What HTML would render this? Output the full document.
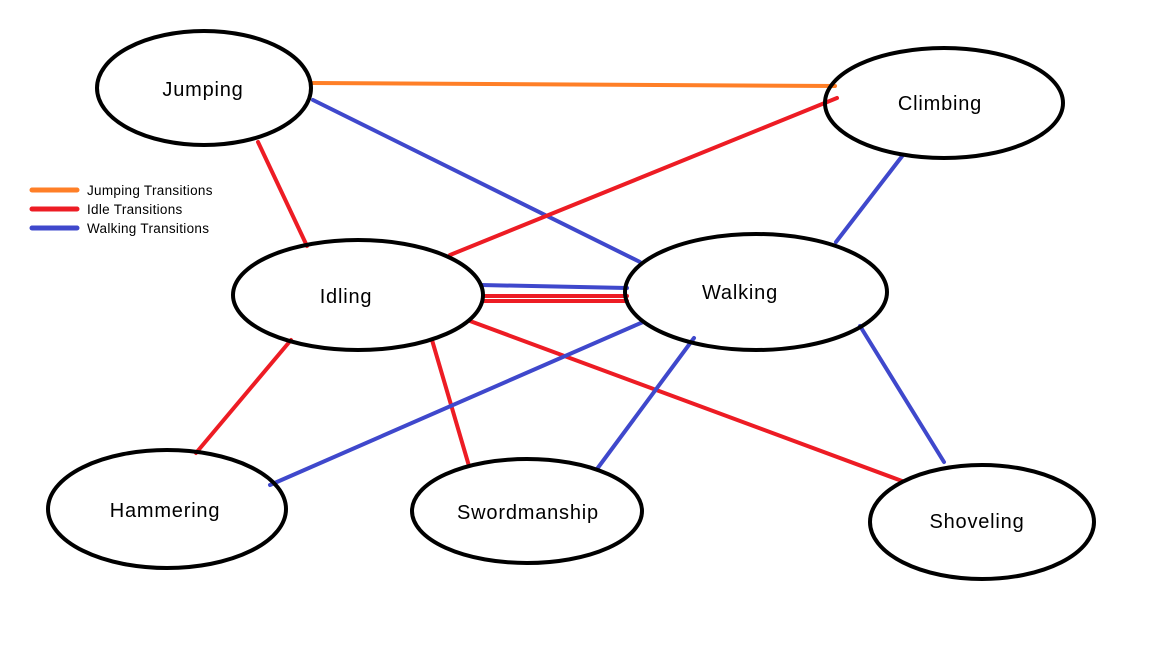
<!DOCTYPE html>
<html><head><meta charset="utf-8"><style>html,body{margin:0;padding:0;background:#fff}</style></head>
<body>
<svg width="1152" height="648" viewBox="0 0 1152 648" xmlns="http://www.w3.org/2000/svg" font-family="Liberation Sans, sans-serif">
<rect width="1152" height="648" fill="#fff"/>
<g stroke-width="4" stroke-linecap="round" fill="none">
<line x1="313" y1="83" x2="835" y2="86" stroke="#FF7F27"/>
<line x1="313" y1="100" x2="640" y2="262" stroke="#3F48CC"/>
<line x1="258" y1="142" x2="307" y2="246" stroke="#ED1C24"/>
<line x1="450" y1="255" x2="837" y2="98" stroke="#ED1C24"/>
<line x1="903" y1="155" x2="836" y2="242" stroke="#3F48CC"/>
<line x1="481" y1="285" x2="627" y2="288" stroke="#3F48CC"/>
<line x1="483" y1="296" x2="627" y2="296" stroke="#ED1C24"/>
<line x1="483" y1="301" x2="627" y2="301" stroke="#ED1C24"/>
<line x1="470" y1="321" x2="902" y2="481" stroke="#ED1C24"/>
<line x1="291" y1="340" x2="196" y2="453" stroke="#ED1C24"/>
<line x1="432" y1="340" x2="469" y2="466" stroke="#ED1C24"/>
<line x1="643" y1="322" x2="270" y2="485" stroke="#3F48CC"/>
<line x1="694" y1="338" x2="597" y2="469" stroke="#3F48CC"/>
<line x1="860" y1="326" x2="944" y2="462" stroke="#3F48CC"/>
</g>
<g stroke="#000" stroke-width="4" fill="none">
<ellipse cx="204" cy="88" rx="107" ry="57"/>
<ellipse cx="944" cy="103" rx="119" ry="55"/>
<ellipse cx="358" cy="295" rx="125" ry="55"/>
<ellipse cx="756" cy="292" rx="131" ry="58"/>
<ellipse cx="167" cy="509" rx="119" ry="59"/>
<ellipse cx="527" cy="511" rx="115" ry="52"/>
<ellipse cx="982" cy="522" rx="112" ry="57"/>
</g>
<g font-size="20" fill="#000" text-anchor="middle" letter-spacing="0.8">
<text x="203" y="96">Jumping</text>
<text x="940" y="110">Climbing</text>
<text x="346" y="303">Idling</text>
<text x="740" y="299">Walking</text>
<text x="165" y="517">Hammering</text>
<text x="528" y="519">Swordmanship</text>
<text x="977" y="528">Shoveling</text>
</g>
<g stroke-width="5" stroke-linecap="round">
<line x1="32" y1="190" x2="77" y2="190" stroke="#FF7F27"/>
<line x1="32" y1="209" x2="77" y2="209" stroke="#ED1C24"/>
<line x1="32" y1="228" x2="77" y2="228" stroke="#3F48CC"/>
</g>
<g font-size="13.5" fill="#000" letter-spacing="0.3">
<text x="87" y="195">Jumping Transitions</text>
<text x="87" y="214">Idle Transitions</text>
<text x="87" y="233">Walking Transitions</text>
</g>
</svg>
</body></html>
